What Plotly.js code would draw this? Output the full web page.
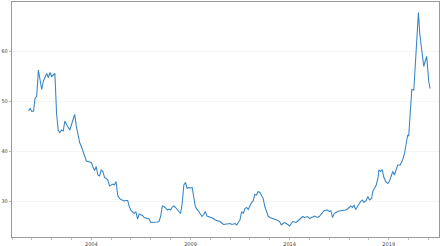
<!DOCTYPE html>
<html>
<head>
<meta charset="utf-8">
<script src="https://cdn.plot.ly/plotly-3.0.1.min.js"></script>
<style>html,body{margin:0;padding:0;background:#fff;}#chart{width:444px;height:246px;}</style>
</head>
<body>
<div id="chart"></div>
<script>
// Monthly values starting 2000-11
const monthlyStart = [2000, 11];
const monthlyValues = [
  48.0, 48.5, 47.9, 48.0, 50.5, 51.0, 56.2, 54.0, 52.3, 54.0,
  55.0, 55.5, 54.7, 55.7, 54.9, 55.2, 55.5, 47.5, 44.2, 43.7,
  44.2, 44.0, 46.0, 45.3, 44.7, 44.2, 45.3, 46.5, 47.3, 44.9,
  43.0, 41.7, 40.9, 39.7, 39.0, 38.0, 37.9, 37.8, 37.7, 36.8,
  36.1, 36.9, 35.2, 35.0, 36.2, 35.9, 34.7, 34.5, 34.2, 33.0,
  33.2, 33.4, 33.2, 33.9, 31.2, 30.5, 30.3, 30.1, 30.0, 30.1,
  30.1, 28.9, 28.1, 27.8, 27.5, 27.9, 26.4, 27.4, 27.2, 27.1,
  26.7, 26.6, 26.5, 26.4, 25.7, 25.7, 25.7, 25.7, 25.8, 25.9,
  26.9, 29.0, 28.9, 28.6, 28.2, 28.4, 28.2, 28.8, 29.0, 28.7,
  28.3, 27.7, 27.5, 29.5, 33.2, 33.7, 32.5, 32.7, 32.6, 32.7,
  30.5, 28.9, 28.3, 28.0, 27.4, 26.9, 27.3, 27.9, 27.0, 26.9,
  26.7, 26.6, 26.5, 26.2, 26.1, 26.0, 25.9, 25.6, 25.3, 25.35,
  25.4, 25.5, 25.5, 25.3, 25.4, 25.5, 25.2, 25.6, 26.2, 27.9,
  27.5, 28.5, 28.7, 28.3, 29.0, 29.7, 30.0, 31.3, 31.2, 31.9,
  31.7, 31.2, 30.5, 28.9, 27.9, 27.0, 26.7, 26.6, 26.5, 26.3,
  26.3, 26.1, 25.9, 25.2, 25.5, 25.7, 25.5, 25.3, 25.0, 25.5,
  25.9, 25.8, 25.7, 26.0, 26.3, 26.6, 26.9, 26.7, 26.8, 26.9,
  26.5, 26.6, 26.8, 27.0, 26.85, 26.7, 26.9, 27.3, 27.7, 28.1,
  28.15, 28.2, 27.9, 28.0, 26.7, 27.5, 27.7, 27.9, 28.0, 28.05,
  28.1, 28.15, 28.2, 28.4, 28.7, 29.0, 28.7, 29.2, 28.3, 28.9,
  29.4, 29.9, 30.2, 29.7
];
// Later, denser readings
const lateDates = [
  "2017-11-13","2017-12-13","2018-01-13","2018-02-19","2018-03-13","2018-04-13",
  "2018-05-16","2018-06-16","2018-07-04","2018-08-04","2018-09-04","2018-09-28",
  "2018-11-04","2018-12-16","2019-01-16","2019-03-16","2019-04-16","2019-05-16",
  "2019-06-16","2019-08-01","2019-09-16","2019-10-19","2019-11-19","2019-12-16",
  "2020-01-04","2020-02-07","2020-03-01","2020-04-07","2020-05-01","2020-06-07",
  "2020-07-01","2020-07-25","2020-08-19","2020-09-19","2020-10-07","2020-11-01",
  "2020-12-01","2020-12-19","2021-01-07","2021-02-01"
];
const lateValues = [
  30.1, 30.9, 30.2, 30.5, 31.9, 32.5,
  33.2, 34.5, 36.2, 35.9, 36.3, 34.9,
  33.9, 33.5, 34.0, 35.9, 35.2, 36.2,
  37.2, 37.2, 38.3, 39.5, 41.5, 43.2,
  43.0, 50.2, 52.3, 52.2, 56.9, 63.5,
  67.7, 63.5, 61.2, 58.9, 56.9, 57.9,
  58.9, 56.5, 53.9, 52.5
];

const monthlyDates = monthlyValues.map((_, i) => {
  const t = monthlyStart[0] * 12 + (monthlyStart[1] - 1) + i;
  const y = Math.floor(t / 12), m = t % 12 + 1;
  return y + "-" + String(m).padStart(2, "0") + "-01";
});
const xs = monthlyDates.concat(lateDates);
const ys = monthlyValues.concat(lateValues);

const axisFont = {family: "DejaVu Sans", size: 5, color: "#444"};
Plotly.newPlot("chart", [{
  x: xs, y: ys, type: "scatter", mode: "lines",
  line: {color: "#3584c3", width: 1.05}
}], {
  width: 444, height: 246,
  margin: {l: 12, r: 5, t: 2, b: 9},
  paper_bgcolor: "#fff", plot_bgcolor: "#fff",
  showlegend: false,
  xaxis: {
    type: "date", range: ["2000-01-01", "2021-07-15"],
    tick0: "2004-01-01", dtick: "M60", tickformat: "%Y",
    ticks: "outside", ticklen: 2, tickcolor: "#888", tickwidth: 0.6,
    minor: {dtick: "M12", tick0: "2000-01-01", ticks: "outside", ticklen: 2, tickcolor: "#999", showgrid: false},
    showgrid: false, zeroline: false,
    showline: true, linecolor: "#999", linewidth: 1.2, mirror: true,
    tickfont: axisFont
  },
  yaxis: {
    range: [22.8, 69.8], tickvals: [30, 40, 50, 60],
    ticks: "outside", ticklen: 2, tickcolor: "#888", tickwidth: 0.6,
    showgrid: true, gridcolor: "#f2f2f2", gridwidth: 0.8,
    zeroline: false,
    showline: true, linecolor: "#999", linewidth: 1.2, mirror: true,
    tickfont: axisFont
  }
}, {staticPlot: true, displayModeBar: false});
</script>
</body>
</html>
